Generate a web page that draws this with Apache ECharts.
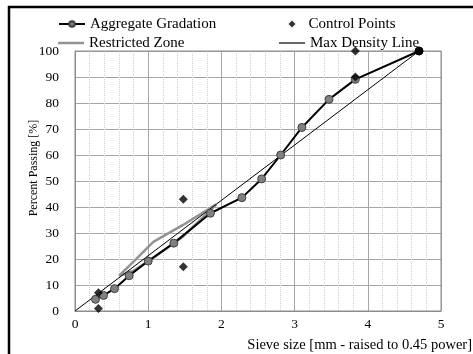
<!DOCTYPE html>
<html><head><meta charset="utf-8">
<script src="https://cdn.jsdelivr.net/npm/echarts@6/dist/echarts.min.js"></script>
<style>html,body{margin:0;padding:0;background:#fff}#c{width:473px;height:354px}</style>
</head><body><div id="c"></div>
<script>
const aggX = [0.28,0.39,0.54,0.74,1.00,1.35,1.85,2.28,2.55,2.81,3.10,3.47,3.83,4.70];
const aggY = [4.5,6.0,8.6,13.6,19.2,26.1,37.6,43.6,50.8,60.0,70.6,81.4,89.1,100];
const ctrlX = [0.32,0.32,1.48,1.48,3.83,3.83,4.70];
const ctrlY = [1,7,17,43,90,100,100];
const rzX = [0.60,0.80,1.07,1.47,1.93,1.47,1.07,0.80,0.60];
const rzY = [13.5,19,26.6,33,41,28.5,20.5,15.5,13.5];
const mdX = [0,4.70];
const mdY = [0,100];
const xTicks = [0,1,2,3,4,5];
const yTicks = [0,10,20,30,40,50,60,70,80,90,100];
const FONT = 'Liberation Serif';
const pair = (xs, ys) => xs.map((x,i)=>[x, ys[i]]);
const chart = echarts.init(document.getElementById('c'));
const aggData = pair(aggX, aggY).map((p,i,a)=> i===a.length-1 ? {value:p, itemStyle:{color:'#000',borderColor:'#000'}} : p);
function leg(name, left, centerY, w, h, icon, padLeft){
  return {data:[icon?{name:name,icon:icon}:{name:name}],left:left,top:centerY-9,height:18,padding:0,itemWidth:w,itemHeight:h,
    textStyle:{fontFamily:FONT,fontSize:15,color:'#000',lineHeight:18,padding:[0,0,0,padLeft||0]}};
}
chart.setOption({
  animation:false,
  textStyle:{fontFamily:FONT},
  grid:{left:75,right:32,top:51,bottom:43},
  legend:[
    leg('Aggregate Gradation',58,24,26,7,null),
    leg('Restricted Zone',58,43,26,2.5,'rect'),
    leg('Control Points',288.5,24,7,7,'diamond',8),
    leg('Max Density Line',279,43,26,1.2,'rect')
  ],
  xAxis:{type:'value',min:0,max:5,interval:1,
    axisLine:{show:true,lineStyle:{color:'#8c8c8c'}},axisTick:{show:false},
    axisLabel:{color:'#000',fontSize:13.5,fontFamily:FONT,margin:6,formatter:v=>xTicks.includes(v)?String(v):''},
    splitLine:{show:true,lineStyle:{color:'#a6a6a6',width:1}},
    minorTick:{show:false,splitNumber:5},
    minorSplitLine:{show:true,lineStyle:{color:'#d0d0d0',type:'dotted',width:1}}},
  yAxis:{type:'value',min:0,max:100,interval:10,
    axisLine:{show:true,lineStyle:{color:'#8c8c8c'}},axisTick:{show:false},
    axisLabel:{color:'#000',fontSize:13.5,fontFamily:FONT,margin:16,formatter:v=>yTicks.includes(v)?String(v):''},
    splitLine:{show:true,lineStyle:{color:'#a6a6a6',width:1}}},
  graphic:[
    {type:'polyline',shape:{points:[[9,354],[9,7],[473,7]]},style:{stroke:'#000',lineWidth:2.5,fill:null},silent:true},
    {type:'rect',shape:{x:75,y:51,width:366,height:260},style:{stroke:'#8c8c8c',fill:null,lineWidth:1},silent:true,z:1},
    {type:'text',x:34,y:168,rotation:Math.PI/2,style:{text:'Percent Passing [%]',font:'12px "Liberation Serif"',fill:'#000',align:'center',verticalAlign:'middle'}},
    {type:'text',right:1,bottom:1,style:{text:'Sieve size [mm - raised to 0.45 power]',font:'14.5px "Liberation Serif"',fill:'#000'}}
  ],
  series:[
    {name:'Restricted Zone',type:'line',data:pair(rzX,rzY),symbol:'none',lineStyle:{color:'#939393',width:2.5},itemStyle:{color:'#939393'},z:2},
    {name:'Max Density Line',type:'line',data:pair(mdX,mdY),symbol:'none',lineStyle:{color:'#000',width:1},itemStyle:{color:'#000'},z:3},
    {name:'Aggregate Gradation',type:'line',data:aggData,symbol:'circle',symbolSize:8,
     lineStyle:{color:'#000',width:2},itemStyle:{color:'#808080',borderColor:'#404040',borderWidth:1},z:4},
    {name:'Control Points',type:'scatter',data:pair(ctrlX,ctrlY),symbol:'diamond',symbolSize:9,itemStyle:{color:'#000'},z:5}
  ]
});
</script></body></html>
